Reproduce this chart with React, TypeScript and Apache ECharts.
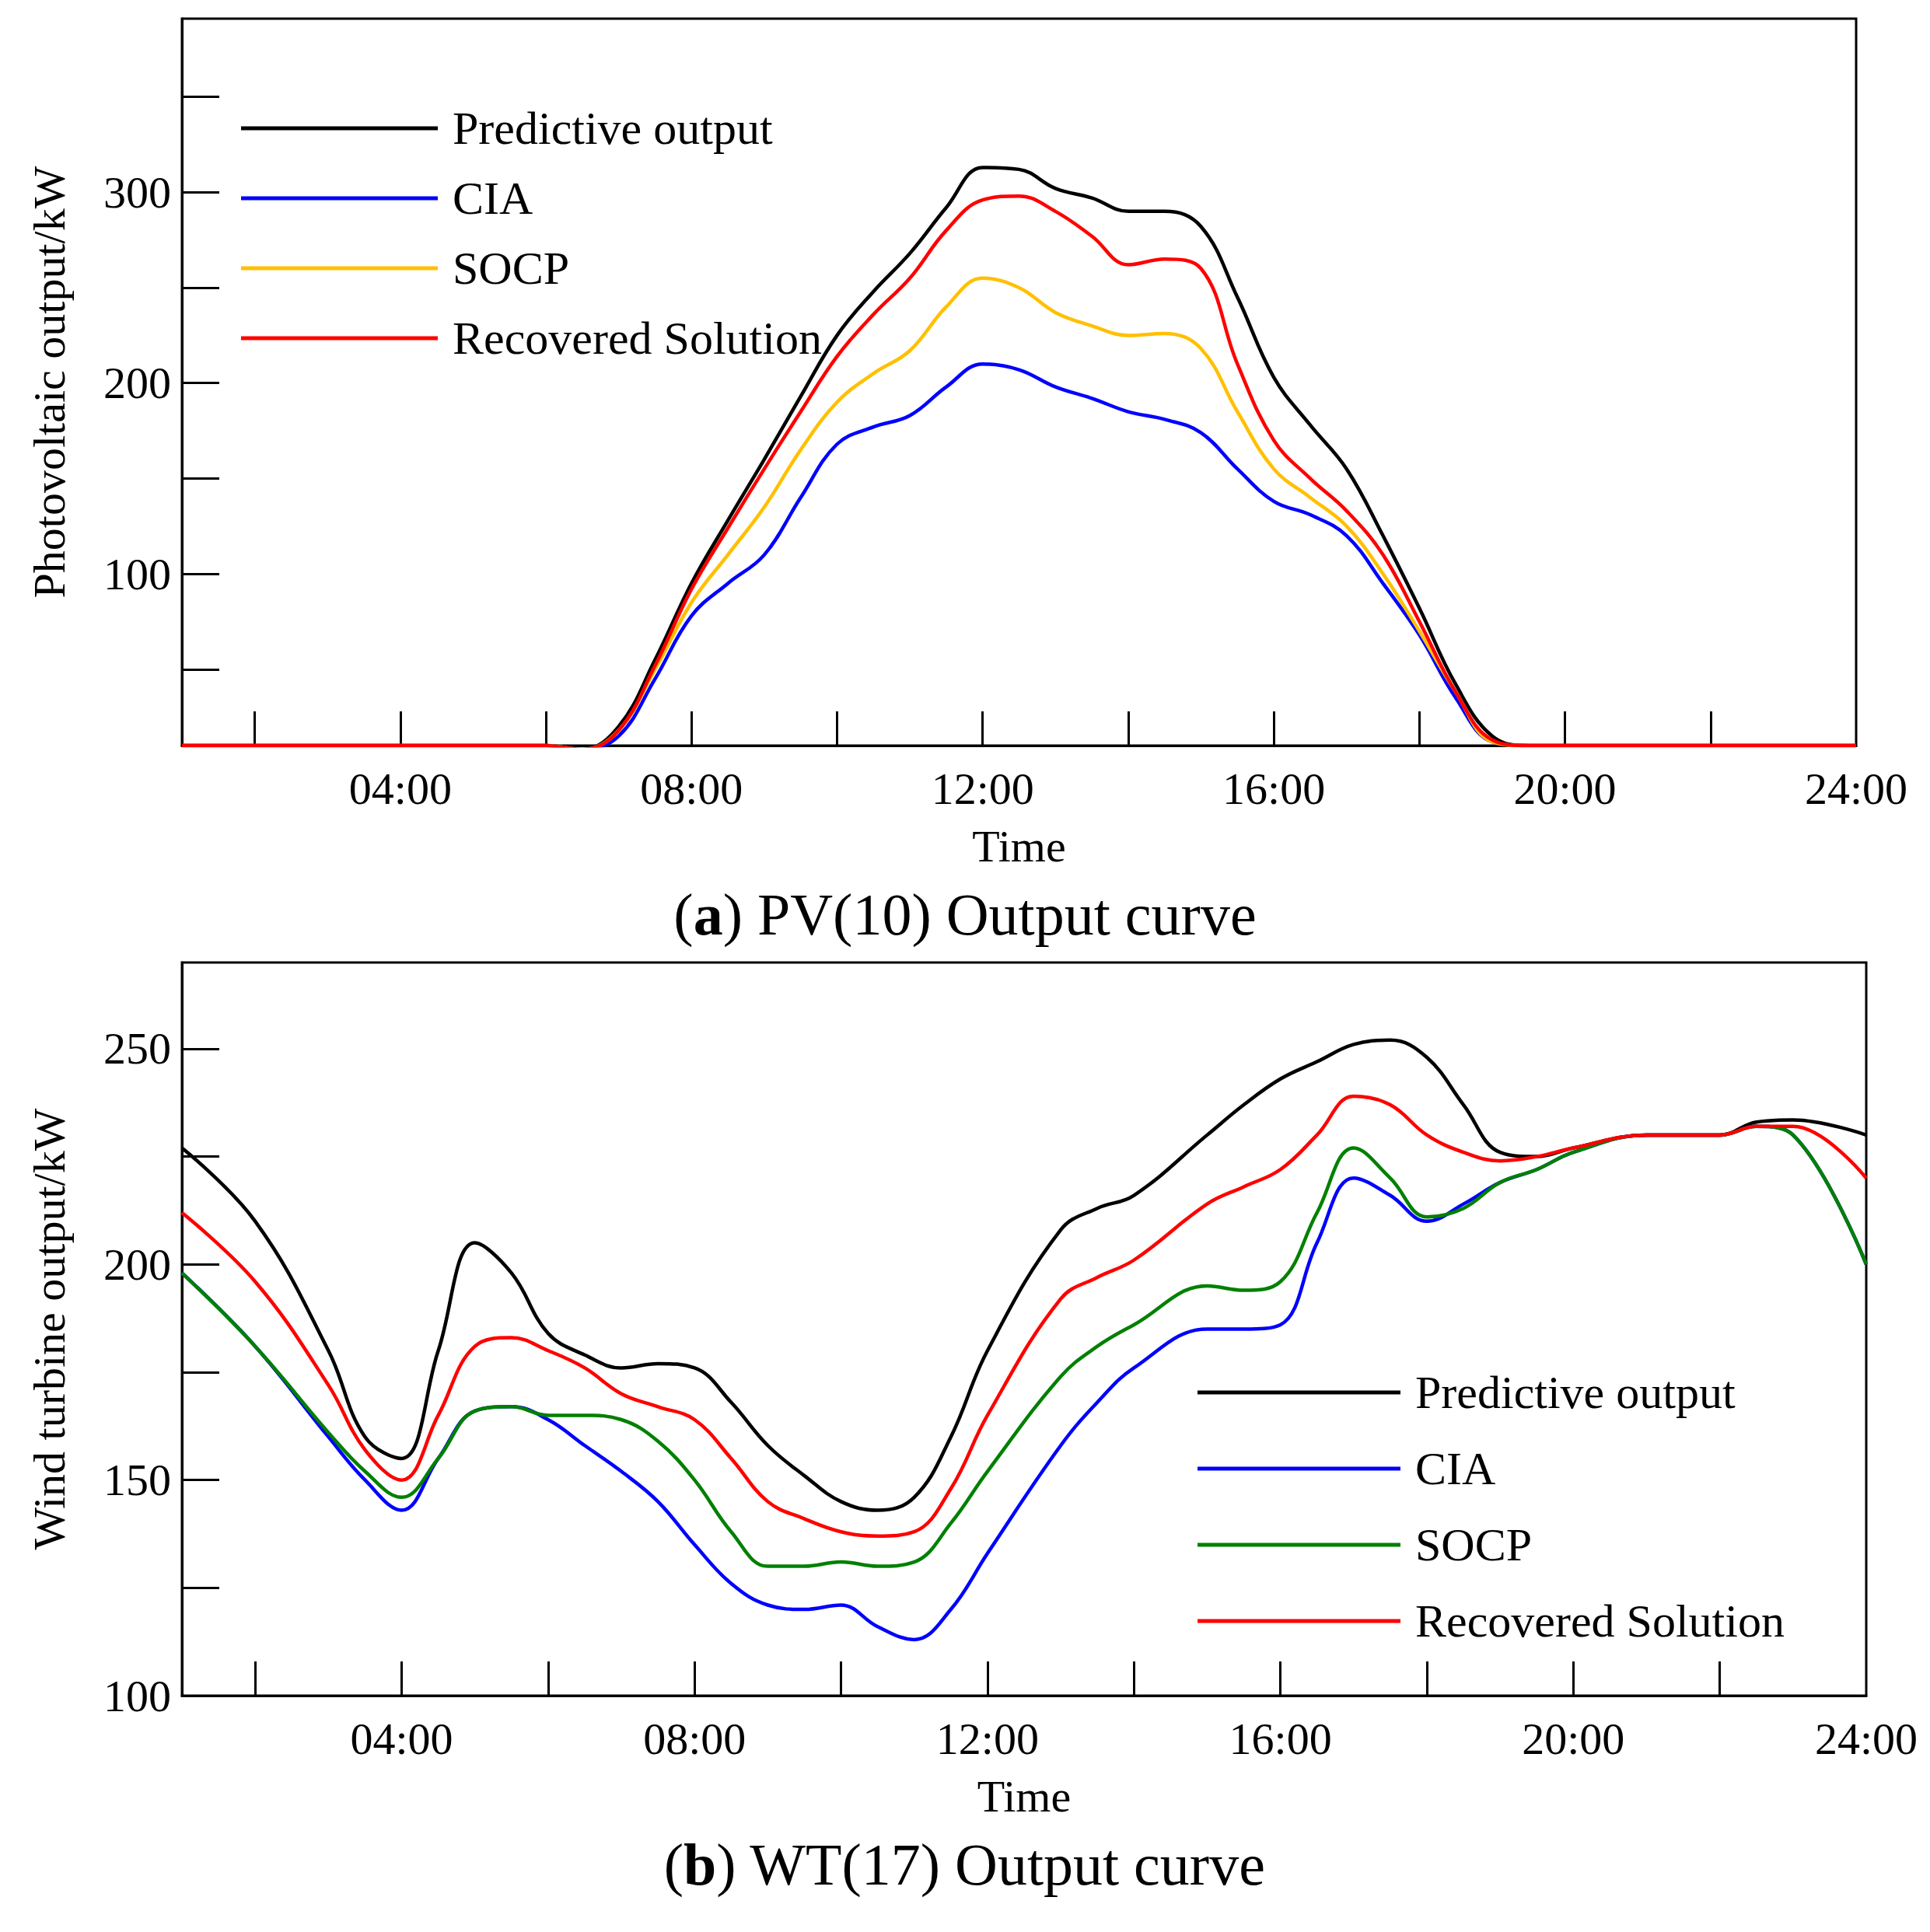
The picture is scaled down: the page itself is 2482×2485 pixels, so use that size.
import React, { useEffect, useRef } from "react";
import * as echarts from "echarts";

const pvHours = [1, 2, 3, 4, 5, 6, 6.5, 7, 7.5, 8, 8.5, 9, 9.5, 10, 10.5, 11, 11.5, 12, 12.5, 13, 13.5, 14, 14.5, 15, 15.5, 16, 16.5, 17, 17.5, 18, 18.5, 19, 19.5, 20, 21, 22, 23, 24];
const pvPred = [10, 10, 10, 10, 10, 10, 8, 20, 55, 95, 128, 160, 193, 225, 248, 268, 292, 313, 312, 302, 297, 290, 290, 282, 245, 203, 178, 155, 120, 82, 42, 15, 10, 10, 10, 10, 10, 10];
const pvCIA = [10, 10, 10, 10, 10, 10, 8, 15, 45, 78, 95, 110, 140, 168, 177, 183, 198, 210, 207, 198, 192, 185, 181, 174, 155, 138, 131, 120, 95, 68, 35, 12, 10, 10, 10, 10, 10, 10];
const pvSOCP = [10, 10, 10, 10, 10, 10, 8, 18, 50, 85, 110, 135, 165, 190, 205, 217, 240, 255, 250, 237, 230, 225, 226, 218, 185, 155, 140, 125, 100, 70, 38, 12, 10, 10, 10, 10, 10, 10];
const pvRec = [10, 10, 10, 10, 10, 10, 8, 18, 52, 92, 124, 155, 185, 214, 236, 255, 280, 296, 298, 290, 277, 262, 265, 260, 210, 170, 150, 133, 110, 75, 38, 13, 10, 10, 10, 10, 10, 10];

const wtHours = [1, 2, 3, 3.5, 4, 4.5, 5, 5.5, 6, 6.5, 7, 7.5, 8, 8.5, 9, 9.5, 10, 10.5, 11, 11.5, 12, 13, 13.5, 14, 15, 15.5, 16, 16.5, 17, 17.5, 18, 18.5, 19, 19.5, 20, 21, 22, 22.5, 23, 24];
const wtPred = [227, 210, 180, 160, 155, 180, 205, 198, 184, 179, 176, 177, 176, 168, 158, 151, 145, 143, 146, 160, 180, 208, 213, 216, 230, 237, 243, 247, 251, 252, 248, 237, 226, 225, 227, 230, 230, 233, 233.5, 230];
const wtRec = [212, 196, 172, 157, 150, 165, 181, 183, 180, 176, 170, 167, 164, 155, 145, 141, 138, 137, 138, 148, 165, 192, 197, 201, 214, 218, 222, 230, 239, 237, 230, 226, 224, 225, 227, 230, 230, 232, 232, 220];
const wtSOCP = [198, 181, 161, 152, 146, 155, 166, 167, 165, 165, 164, 159, 150, 138, 130, 130, 131, 130, 131, 140, 152, 174, 181, 186, 195, 194, 196, 212, 227, 220, 211, 213, 219, 222, 226, 230, 230, 232, 230, 200];
const wtCIA = [198, 181, 160, 150, 143, 155, 166, 167, 164, 158, 152, 145, 135, 126, 121, 120, 121, 116, 113, 120, 133, 158, 168, 176, 185, 185, 186, 205, 220, 216, 210, 214, 219, 222, 226, 230, 230, 232, 230, 200];

const seriesNames = ["Predictive output", "CIA", "SOCP", "Recovered Solution"];
const xTicks = [2, 4, 6, 8, 10, 12, 14, 16, 18, 20, 22];
const xLabels = [4, 8, 12, 16, 20, 24];
const pvYTicks = [50, 100, 150, 200, 250, 300, 350];
const pvYLabels = [100, 200, 300];
const wtYTicks = [125, 150, 175, 200, 225, 250];
const wtYLabels = [100, 150, 200, 250];

const FONT = "Liberation Serif";

const zip = (xs: number[], ys: number[]) => xs.map((x, i) => [x, ys[i]]);
const fmtHour = (v: number) => (v < 10 ? "0" : "") + v + ":00";

export default function App() {
  const ref = useRef<HTMLDivElement>(null);
  useEffect(() => {
    document.body.style.margin = "0";
    const chart = echarts.init(ref.current!, null, { renderer: "svg" });
    const line = (name: string, data: number[][], color: string, xi: number) => ({
      type: "line", name, data, xAxisIndex: xi, yAxisIndex: xi, smooth: 0.4, symbol: "none",
      lineStyle: { color, width: 4.5 }, itemStyle: { color },
    });
    const xAxis = (gi: number) => ({
      type: "value", gridIndex: gi, min: 1, max: 24,
      name: "Time", nameLocation: "middle", nameGap: 100,
      nameTextStyle: { fontFamily: FONT, fontSize: 58, color: "#000" },
      axisLine: { show: true, lineStyle: { color: "#000", width: 3 } },
      splitLine: { show: false },
      axisTick: { inside: true, length: 44, lineStyle: { color: "#000", width: 3 }, customValues: xTicks },
      axisLabel: { fontFamily: FONT, fontSize: 58, color: "#000", margin: 26, customValues: xLabels, formatter: fmtHour },
    });
    const yAxis = (gi: number, min: number, max: number, ticks: number[], labels: number[], name: string) => ({
      type: "value", gridIndex: gi, min, max, name, nameLocation: "middle", nameGap: 142,
      nameTextStyle: { fontFamily: FONT, fontSize: 58, color: "#000" },
      axisLine: { show: true, lineStyle: { color: "#000", width: 3 } },
      splitLine: { show: false },
      axisTick: { inside: true, length: 48, lineStyle: { color: "#000", width: 3 }, customValues: ticks },
      axisLabel: { fontFamily: FONT, fontSize: 58, color: "#000", margin: 14, customValues: labels },
    });
    const legend = (left: number, top: number, gap: number, data: string[], len: number) => ({
      orient: "vertical", left, top, itemWidth: len, itemHeight: 5, itemGap: gap, data, icon: "rect",
      textStyle: { fontFamily: FONT, fontSize: 60, color: "#000", lineHeight: 64, padding: [0, 0, 0, 14] },
    });
    chart.setOption({
      animation: false,
      backgroundColor: "#fff",
      grid: [
        { left: 234, right: 95, top: 24, height: 935, show: true, borderColor: "#000", borderWidth: 3 },
        { left: 234, right: 82, top: 1238, height: 943, show: true, borderColor: "#000", borderWidth: 3 },
      ],
      xAxis: [xAxis(0), xAxis(1)],
      yAxis: [
        yAxis(0, 10, 391, pvYTicks, pvYLabels, "Photovoltaic output/kW"),
        yAxis(1, 100, 270, wtYTicks, wtYLabels, "Wind turbine output/kW"),
      ],
      legend: [
        legend(305, 128, 26, seriesNames.map((n) => n), 253),
        { ...legend(1535, 1754, 34, [], 261), data: ["Predictive output ", "CIA ", "SOCP ", "Recovered Solution "] },
      ],
      series: [
        line(seriesNames[0], zip(pvHours, pvPred), "#000000", 0),
        line(seriesNames[1], zip(pvHours, pvCIA), "#0000ff", 0),
        line(seriesNames[2], zip(pvHours, pvSOCP), "#ffc000", 0),
        line(seriesNames[3], zip(pvHours, pvRec), "#ff0000", 0),
        line("Predictive output ", zip(wtHours, wtPred), "#000000", 1),
        line("CIA ", zip(wtHours, wtCIA), "#0000ff", 1),
        line("SOCP ", zip(wtHours, wtSOCP), "#008000", 1),
        line("Recovered Solution ", zip(wtHours, wtRec), "#ff0000", 1),
      ],
      graphic: [
        {
          type: "text", left: "center", top: 1138,
          style: { text: "({b|a}) PV(10) Output curve", rich: { b: { fontWeight: "bold", fontFamily: FONT, fontSize: 76 } }, fontFamily: FONT, fontSize: 76, fill: "#000" },
        },
        {
          type: "text", left: "center", top: 2360,
          style: { text: "({b|b}) WT(17) Output curve", rich: { b: { fontWeight: "bold", fontFamily: FONT, fontSize: 76 } }, fontFamily: FONT, fontSize: 76, fill: "#000" },
        },
      ],
    });
    return () => chart.dispose();
  }, []);
  return <div ref={ref} style={{ width: 2482, height: 2485 }} />;
}
